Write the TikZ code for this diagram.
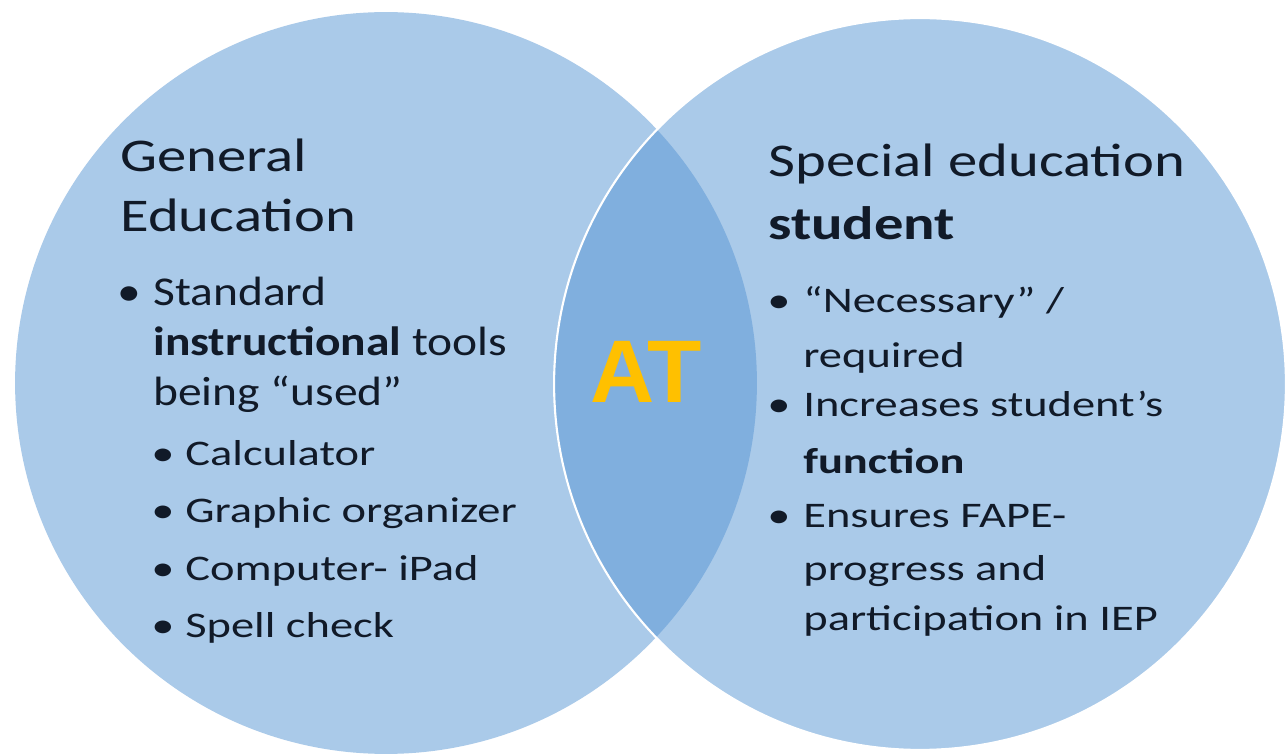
\documentclass[tikz,border=0pt]{standalone}
\usepackage{fontspec}
\setmainfont{Carlito}
\newfontfamily\headfont{Carlito}[FakeStretch = 1.25]
\newfontfamily\itemfont{Carlito}[FakeStretch = 1.16]
\newfontfamily\subfont{Carlito}[FakeStretch = 1.29]
\newfontfamily\atfont{Liberation Sans}

\definecolor{circleblue}{HTML}{AACAE9}
\definecolor{lensblue}{HTML}{80AFDE}
\definecolor{atgold}{HTML}{FFC000}
\definecolor{textink}{HTML}{111A28}

\tikzset{
	headtext/.style = {anchor = base west, inner sep = 0pt, text = textink, font = \headfont\fontsize{26.7}{32}\selectfont},
	itemtext/.style = {anchor = base west, inner sep = 0pt, text = textink, font = \itemfont\fontsize{23.3}{28}\selectfont},
	subtext/.style = {anchor = base west, inner sep = 0pt, text = textink, font = \subfont\fontsize{20.5}{25}\selectfont}
}

\begin{document}
\begin{tikzpicture}[x = 0.02cm, y = -0.02cm]

	\fill [white] (0, 0) rectangle (1287, 756);

	% The two sets and their overlap

	\fill [circleblue] (386, 383) circle (7.42cm);
	\fill [circleblue] (920, 384) circle (7.32cm);
	\begin{scope}
		\clip (386, 383) circle (7.42cm);
		\fill [lensblue] (920, 384) circle (7.32cm);
	\end{scope}
	\draw [white, line width = 1.2pt] (920, 384) circle (7.32cm);

	\node [anchor = base, inner sep = 0pt, text = atgold, font = \atfont\bfseries\fontsize{50.6}{60}\selectfont] (at) at (646, 402) {AT};

	% General education

	\node [headtext] (gen1) at (120, 172) {General};
	\node [headtext] (gen2) at (120, 232) {Education};

	\node [itemtext] (gdot) at (117, 306) {•};
	\node [itemtext] (gitem1) at (153, 306) {Standard};
	\node [itemtext] (gitem2) at (153, 356) {\textbf{instructional} tools};
	\node [itemtext] (gitem3) at (153, 406) {being “used”};

	\foreach \n/\y/\t in {1/465/Calculator, 2/522/Graphic organizer, 3/580/Computer- iPad, 4/637/Spell check} {
		\node [subtext] (gsdot\n) at (151, \y) {•};
		\node [subtext] (gsub\n) at (185, \y) {\t};
	}

	% Special education student

	\node [headtext] (spe1) at (768, 177) {Special education};
	\node [headtext] (spe2) at (768, 240) {\textbf{student}};

	\foreach \n/\y in {1/313, 2/417, 3/527}
		\node [subtext] (sdot\n) at (767, \y) {•};

	\node [subtext] (sitem1) at (803, 313) {“Necessary” /};
	\node [subtext] (sitem2) at (803, 368) {required};
	\node [subtext] (sitem3) at (803, 417) {Increases student’s};
	\node [subtext] (sitem4) at (803, 473) {\textbf{function}};
	\node [subtext] (sitem5) at (803, 527) {Ensures FAPE-};
	\node [subtext] (sitem6) at (803, 580) {progress and};
	\node [subtext] (sitem7) at (803, 630) {participation in IEP};

\end{tikzpicture}
\end{document}
